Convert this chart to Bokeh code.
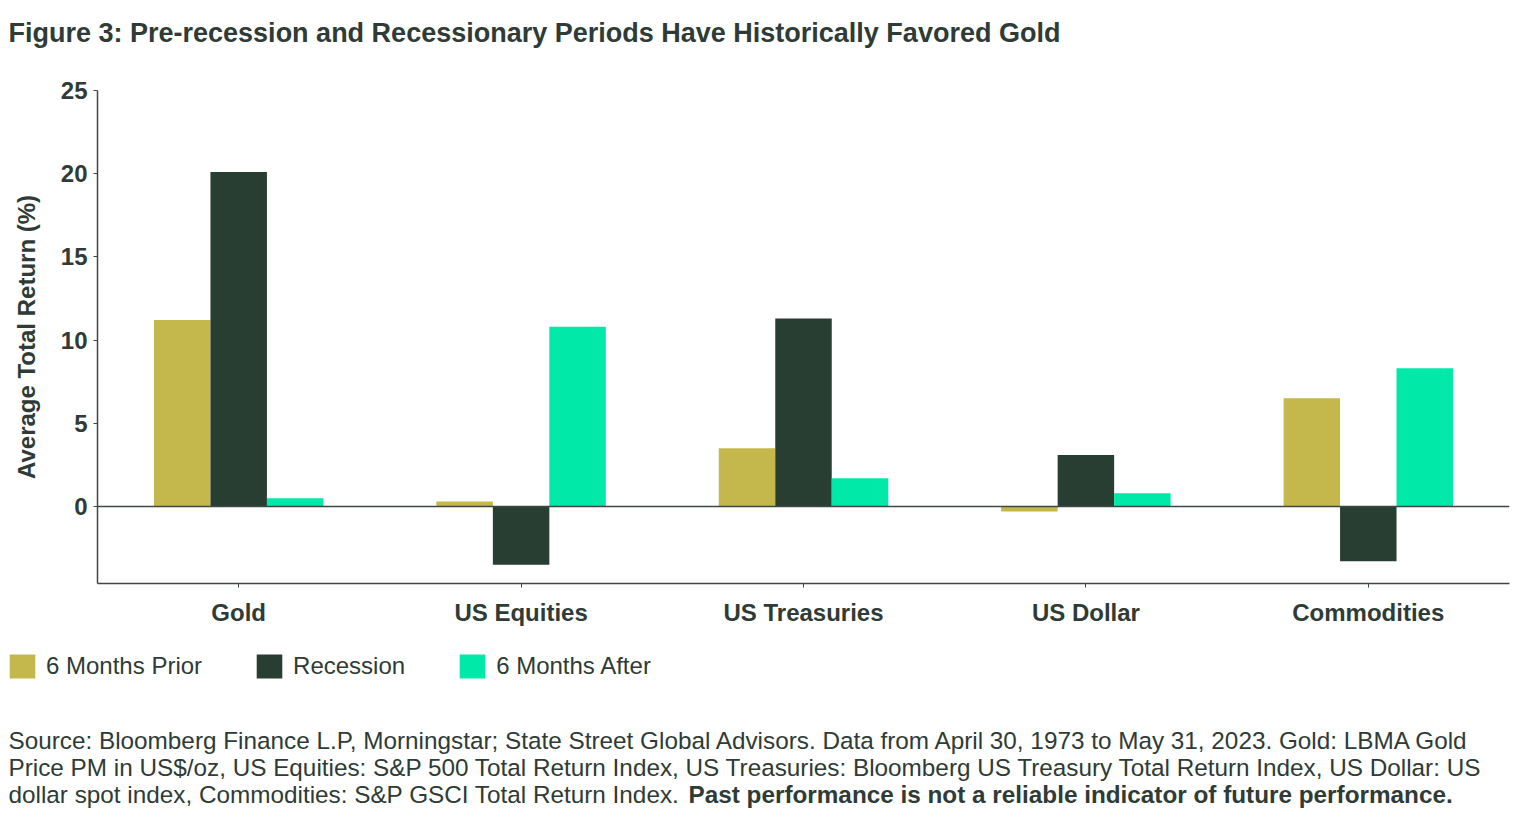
from bokeh.plotting import figure
from bokeh.models import (ColumnDataSource, FactorRange, Range1d, FixedTicker, Span,
                          Label, Legend, LegendItem)
from bokeh.transform import dodge
from bokeh.embed import file_html
from bokeh.resources import INLINE

categories = ["Gold", "US Equities", "US Treasuries", "US Dollar", "Commodities"]
series_names = ["6 Months Prior", "Recession", "6 Months After"]
prior = [11.2, 0.3, 3.5, -0.3, 6.5]
recession = [20.1, -3.5, 11.3, 3.1, -3.3]
after = [0.5, 10.8, 1.7, 0.8, 8.3]
y_ticks = [0, 5, 10, 15, 20, 25]

title_text = "Figure 3: Pre-recession and Recessionary Periods Have Historically Favored Gold"
source_lines = [
    "Source: Bloomberg Finance L.P, Morningstar; State Street Global Advisors. Data from April 30, 1973 to May 31, 2023. Gold: LBMA Gold",
    "Price PM in US$/oz, US Equities: S&P 500 Total Return Index, US Treasuries: Bloomberg US Treasury Total Return Index, US Dollar: US",
    "dollar spot index, Commodities: S&P GSCI Total Return Index.",
]
bold_note = "Past performance is not a reliable indicator of future performance."

colors = ["#C4B84C", "#293E33", "#00E9A8"]
TEXT = "#2E3B36"
AXC = "#3C4842"
FONT = "Liberation Sans"
W = 1520


def text_panel(height):
    f = figure(width=W, height=height, x_range=Range1d(0, W), y_range=Range1d(height, 0),
               x_axis_type=None, y_axis_type=None, output_backend="svg", toolbar_location=None,
               min_border=0, min_border_left=0, min_border_right=0, min_border_top=0,
               min_border_bottom=0)
    f.outline_line_color = None
    f.xgrid.visible = False
    f.ygrid.visible = False
    return f


src = ColumnDataSource(dict(cat=categories, idx=list(range(len(categories))),
                            prior=prior, recession=recession, after=after))

# --- title ---
TOP_H = 62
p_top = text_panel(TOP_H)
p_top.add_layout(Label(x=8, y=32, text=title_text, text_font=FONT, text_font_style="bold",
                       text_font_size="27px", text_color=TEXT, text_baseline="alphabetic"))

# --- main chart ---
MAIN_H = 578
p = figure(width=W, height=MAIN_H,
           x_range=FactorRange(factors=categories, range_padding=0),
           y_range=Range1d(-4.63, 25),
           output_backend="svg", toolbar_location=None,
           min_border_left=97, min_border_right=11, min_border_top=90 - TOP_H,
           min_border_bottom=MAIN_H - (583 - TOP_H))
p.outline_line_color = None
p.xgrid.visible = False
p.ygrid.visible = False

for off, field, col in zip([-0.2, 0.0, 0.2], ["prior", "recession", "after"], colors):
    p.vbar(x=dodge("cat", off, range=p.x_range), top=field, bottom=0, width=0.2,
           source=src, fill_color=col, line_color=None)

p.add_layout(Span(location=0, dimension="width", line_color=AXC, line_width=1.5))

p.yaxis.ticker = FixedTicker(ticks=y_ticks)
p.yaxis.axis_label = "Average Total Return (%)"
for ax in (p.xaxis[0], p.yaxis[0]):
    ax.axis_line_color = AXC
    ax.axis_line_width = 1.5
    ax.major_tick_line_color = AXC
    ax.major_tick_in = 0
    ax.major_tick_out = 4
    ax.minor_tick_line_color = None
    ax.major_label_text_font = FONT
    ax.major_label_text_font_style = "bold"
    ax.major_label_text_font_size = "24px"
    ax.major_label_text_color = TEXT
p.yaxis.major_label_standoff = 6
p.yaxis.axis_label_text_font = FONT
p.yaxis.axis_label_text_font_style = "bold"
p.yaxis.axis_label_text_font_size = "24px"
p.yaxis.axis_label_text_color = TEXT
p.yaxis.axis_label_standoff = 18
p.xaxis.major_label_standoff = 11

# --- legend and source note ---
BOT_H = 830 - TOP_H - MAIN_H
p_bot = text_panel(BOT_H)
handles = []
for field, col in zip(["prior", "recession", "after"], colors):
    handles.append(p_bot.vbar(x="idx", top=field, width=0.5, source=src, fill_color=col,
                              line_color=None, visible=False))
items = [LegendItem(label=n, renderers=[r]) for n, r in zip(series_names, handles)]
legend = Legend(items=items, orientation="horizontal", location=(6, BOT_H - 41),
                padding=0, margin=0, spacing=51, label_standoff=8,
                glyph_width=32, glyph_height=30, label_height=30,
                border_line_color=None, background_fill_alpha=0,
                inactive_fill_alpha=0, click_policy="none",
                label_text_font=FONT, label_text_font_size="24px", label_text_color=TEXT)
p_bot.add_layout(legend, "center")

for i, line in enumerate(source_lines):
    p_bot.add_layout(Label(x=8, y=100 + 27 * i, text=line, text_font=FONT,
                           text_font_size="24.3px", text_color=TEXT, text_baseline="alphabetic"))
p_bot.add_layout(Label(x=688, y=100 + 54, text=bold_note, text_font=FONT,
                       text_font_style="bold", text_font_size="24.3px", text_color=TEXT,
                       text_baseline="alphabetic"))

open("out.html", "w").write(file_html([p_top, p, p_bot], INLINE))
